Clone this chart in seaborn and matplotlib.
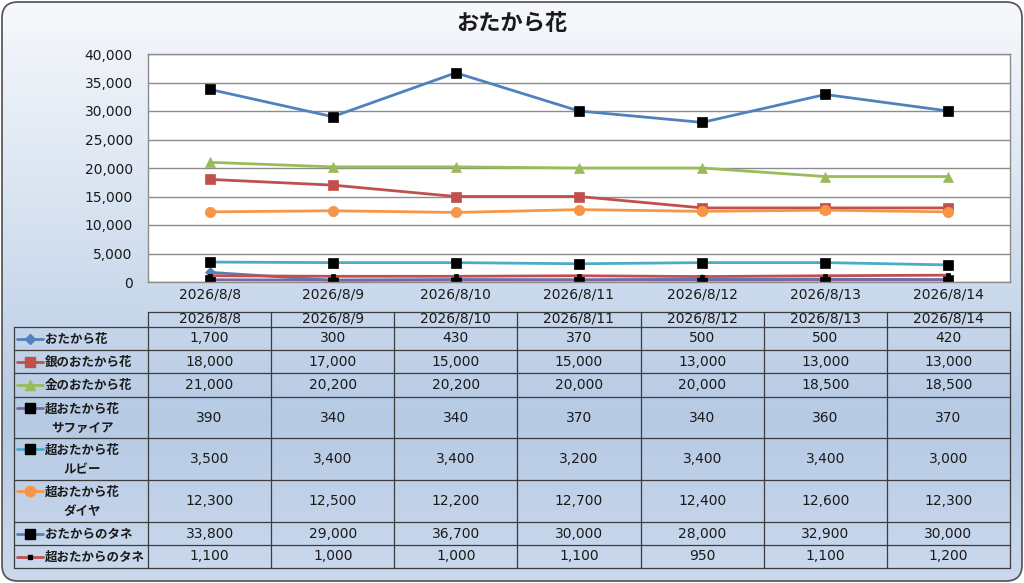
import numpy as np
import pandas as pd
import matplotlib
matplotlib.use("Agg")
import matplotlib.pyplot as plt
import seaborn as sns
from matplotlib.patches import FancyBboxPatch
from matplotlib.colors import LinearSegmentedColormap
from matplotlib.ticker import FuncFormatter

dates = ["2026/8/8", "2026/8/9", "2026/8/10", "2026/8/11",
         "2026/8/12", "2026/8/13", "2026/8/14"]
series_names = ["おたから花", "銀のおたから花", "金のおたから花",
                "超おたから花\nサファイア", "超おたから花\nルビー",
                "超おたから花\nダイヤ", "おたからのタネ", "超おたからのタネ"]
otakara = [1700, 300, 430, 370, 500, 500, 420]
gin = [18000, 17000, 15000, 15000, 13000, 13000, 13000]
kin = [21000, 20200, 20200, 20000, 20000, 18500, 18500]
sapphire = [390, 340, 340, 370, 340, 360, 370]
ruby = [3500, 3400, 3400, 3200, 3400, 3400, 3000]
diamond = [12300, 12500, 12200, 12700, 12400, 12600, 12300]
tane = [33800, 29000, 36700, 30000, 28000, 32900, 30000]
cho_tane = [1100, 1000, 1000, 1100, 950, 1100, 1200]
values = [otakara, gin, kin, sapphire, ruby, diamond, tane, cho_tane]

# line colour, marker, marker face, marker size
styles = [
    ("#4F81BD", "D", "#4F81BD", 5),
    ("#C0504D", "s", "#C0504D", 7),
    ("#9BBB59", "^", "#9BBB59", 7.5),
    ("#8064A2", "s", "black", 7),
    ("#4BACC6", "s", "black", 7),
    ("#F79646", "o", "#F79646", 7.5),
    ("#4F81BD", "s", "black", 7),
    ("#C0504D", "s", "black", 3),
]

df = pd.DataFrame({
    "pos": np.tile(np.arange(len(dates)), len(series_names)),
    "value": np.concatenate(values),
    "series": np.repeat(series_names, len(dates)),
})

sns.set_style("white")
# digits in DejaVu (wide, like the original), Japanese falls back to Noto CJK
plt.rcParams["font.family"] = ["DejaVu Sans", "Noto Sans CJK JP"]
txt_c = "#1a1a1a"

W, H = 1024, 583
fig = plt.figure(figsize=(W / 100, H / 100), dpi=100)
fig.patch.set_facecolor("white")

# background gradient inside a rounded frame
bg = fig.add_axes([0, 0, 1, 1], zorder=0)
bg.axis("off")
cmap = LinearSegmentedColormap.from_list(
    "bg", [(0, "#F7F9FC"), (0.45, "#D0DDEE"), (0.72, "#B6CAE4"), (1, "#CBD9ED")])
grad = np.linspace(0, 1, 256).reshape(-1, 1)
im = bg.imshow(grad, cmap=cmap, aspect="auto", extent=(0, W, H, 0))
frame = FancyBboxPatch((2, 2), W - 4, H - 4, boxstyle="round,pad=0,rounding_size=16",
                       facecolor="none", edgecolor="#5A5A5A", linewidth=1.3,
                       transform=bg.transData)
bg.add_patch(frame)
im.set_clip_path(frame)
bg.set_xlim(0, W)
bg.set_ylim(H, 0)

# --- line chart ---
ax = fig.add_axes([148 / W, 1 - 282 / H, 862 / W, 228 / H], zorder=1)
ax.set_facecolor("white")
for name, (color, marker, mfc, ms) in zip(series_names, styles):
    sns.lineplot(data=df[df["series"] == name], x="pos", y="value", ax=ax,
                 color=color, linewidth=2, marker=marker, markersize=ms,
                 markerfacecolor=mfc, markeredgecolor=mfc, markeredgewidth=0.5,
                 legend=False)
ax.set_xlim(-0.5, len(dates) - 0.5)
ax.set_ylim(0, 40000)
ax.set_yticks(np.arange(0, 40001, 5000))
ax.yaxis.set_major_formatter(FuncFormatter(lambda v, p: f"{v:,.0f}"))
ax.set_xticks(np.arange(len(dates)))
ax.set_xticklabels(dates)
ax.set_xlabel("")
ax.set_ylabel("")
ax.grid(axis="y", color="#8C8C8C", linewidth=1)
ax.grid(axis="x", visible=False)
ax.set_axisbelow(True)
for sp in ax.spines.values():
    sp.set_color("#8C8C8C")
    sp.set_linewidth(1)
ax.tick_params(axis="y", length=0, pad=11, labelsize=10, labelcolor=txt_c)
ax.tick_params(axis="x", length=0, pad=4, labelsize=10, labelcolor=txt_c)

fig.text(512 / W, 1 - 24 / H, "おたから花", ha="center", va="center",
         fontsize=16, fontweight="bold", color=txt_c)

# --- data table ---
tx = fig.add_axes([0, 0, 1, 1], zorder=2)
tx.set_xlim(0, W)
tx.set_ylim(H, 0)
tx.axis("off")
tx.patch.set_alpha(0)

line_c = "#3C3C3C"
col_edges = np.linspace(148, 1010, len(dates) + 1)
row_edges = [327, 350, 373, 397, 438, 480, 522, 545, 568]

tx.plot([148, 1010], [312, 312], color=line_c, lw=0.9)
for y in row_edges:
    tx.plot([14, 1010], [y, y], color=line_c, lw=0.9)
tx.plot([14, 14], [327, 568], color=line_c, lw=0.9)
for x in col_edges:
    tx.plot([x, x], [312, 568], color=line_c, lw=0.9)

centers = (col_edges[:-1] + col_edges[1:]) / 2
for cx, d in zip(centers, dates):
    tx.text(cx, 319, d, ha="center", va="center", fontsize=10, color=txt_c)

for i, (name, vals, (color, marker, mfc, ms)) in enumerate(zip(series_names, values, styles)):
    top, bot = row_edges[i], row_edges[i + 1]
    cy = (top + bot) / 2
    for cx, v in zip(centers, vals):
        tx.text(cx, cy, f"{v:,}", ha="center", va="center", fontsize=10, color=txt_c)
    key_y = top + 11 if "\n" in name else cy
    tx.plot([17, 43], [key_y, key_y], color=color, lw=2)
    tx.plot([30], [key_y], marker=marker, markersize=ms, color=mfc, markeredgecolor=mfc)
    tx.text(45, cy + 1, name, ha="left", va="center", multialignment="center",
            fontsize=9, fontweight="bold", color=txt_c, linespacing=1.6)

fig.savefig("out.png", dpi=100)
